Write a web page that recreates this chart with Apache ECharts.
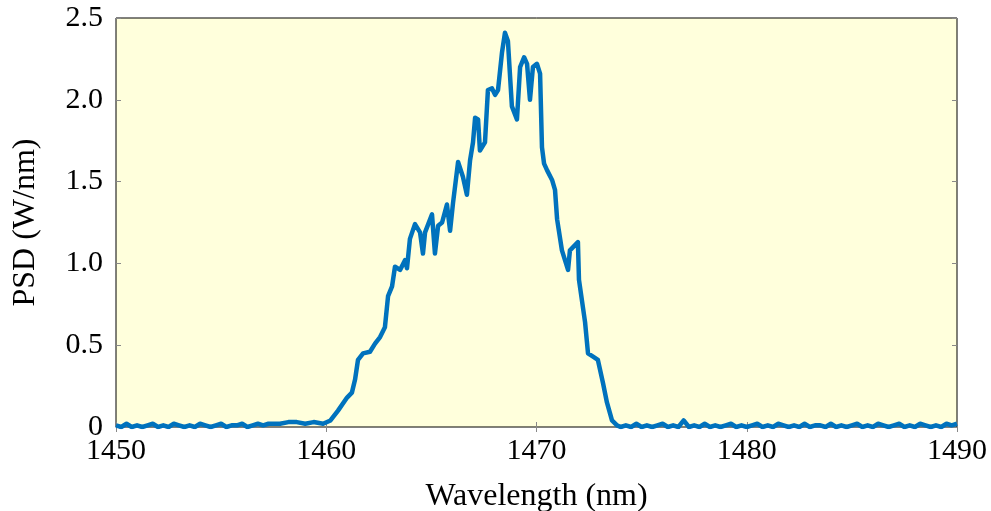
<!DOCTYPE html>
<html>
<head>
<meta charset="utf-8">
<script src="https://cdn.jsdelivr.net/npm/echarts@6/dist/echarts.min.js"></script>
<style>
  html, body { margin: 0; padding: 0; background: #fff; }
  #main { width: 991px; height: 511px; }
</style>
</head>
<body>
<div id="main"></div>
<script>
// wavelength samples (nm) and power spectral density (W/nm)
const wavelength = [
  1450.0, 1450.25, 1450.5, 1450.75, 1451.0, 1451.25, 1451.5, 1451.75, 1452.0, 1452.25,
  1452.5, 1452.75, 1453.0, 1453.25, 1453.5, 1453.75, 1454.0, 1454.25, 1454.5, 1454.75,
  1455.0, 1455.25, 1455.5, 1455.75, 1456.0, 1456.25, 1456.5, 1456.75, 1457.0, 1457.25,
  1457.5, 1457.8, 1458.2, 1458.6, 1459.0, 1459.4, 1459.85, 1460.2, 1460.56, 1460.99,
  1461.22, 1461.37, 1461.51, 1461.75, 1462.08, 1462.32, 1462.56, 1462.79, 1462.94, 1463.13,
  1463.27, 1463.51, 1463.75, 1463.84, 1463.98, 1464.22, 1464.46, 1464.6, 1464.7, 1465.03,
  1465.17, 1465.32, 1465.51, 1465.74, 1465.89, 1466.03, 1466.27, 1466.5, 1466.69, 1466.84,
  1466.98, 1467.08, 1467.22, 1467.31, 1467.55, 1467.69, 1467.88, 1468.03, 1468.17, 1468.36,
  1468.5, 1468.64, 1468.83, 1469.07, 1469.22, 1469.41, 1469.55, 1469.69, 1469.83, 1470.02,
  1470.17, 1470.26, 1470.36, 1470.5, 1470.74, 1470.88, 1470.98, 1471.21, 1471.5, 1471.59,
  1471.97, 1472.02, 1472.31, 1472.45, 1472.69, 1472.92, 1473.16, 1473.35, 1473.59, 1473.83,
  1474.0, 1474.25, 1474.5, 1474.75, 1475.0, 1475.25, 1475.5, 1475.75, 1476.0, 1476.25,
  1476.5, 1476.75, 1477.0, 1477.25, 1477.5, 1477.75, 1478.0, 1478.25, 1478.5, 1478.75,
  1479.0, 1479.25, 1479.5, 1479.75, 1480.0, 1480.25, 1480.5, 1480.75, 1481.0, 1481.25,
  1481.5, 1481.75, 1482.0, 1482.25, 1482.5, 1482.75, 1483.0, 1483.25, 1483.5, 1483.75,
  1484.0, 1484.25, 1484.5, 1484.75, 1485.0, 1485.25, 1485.5, 1485.75, 1486.0, 1486.25,
  1486.5, 1486.75, 1487.0, 1487.25, 1487.5, 1487.75, 1488.0, 1488.25, 1488.5, 1488.75,
  1489.0, 1489.25, 1489.5, 1489.75, 1490.0
];
const psd = [
  0.01, 0.00, 0.02, 0.00, 0.01, 0.00, 0.01, 0.02, 0.00, 0.01,
  0.00, 0.02, 0.01, 0.00, 0.01, 0.00, 0.02, 0.01, 0.00, 0.01,
  0.02, 0.00, 0.01, 0.01, 0.02, 0.00, 0.01, 0.02, 0.01, 0.02,
  0.02, 0.02, 0.03, 0.03, 0.02, 0.03, 0.02, 0.04, 0.10, 0.18,
  0.21, 0.29, 0.41, 0.45, 0.46, 0.51, 0.55, 0.61, 0.80, 0.86,
  0.98, 0.96, 1.02, 0.97, 1.15, 1.24, 1.19, 1.06, 1.19, 1.30,
  1.06, 1.23, 1.25, 1.36, 1.20, 1.37, 1.62, 1.53, 1.42, 1.63,
  1.74, 1.89, 1.88, 1.69, 1.74, 2.06, 2.07, 2.03, 2.06, 2.29,
  2.41, 2.36, 1.96, 1.88, 2.20, 2.26, 2.22, 2.00, 2.20, 2.22,
  2.16, 1.71, 1.61, 1.57, 1.51, 1.45, 1.27, 1.08, 0.96, 1.08,
  1.13, 0.90, 0.64, 0.45, 0.43, 0.41, 0.27, 0.15, 0.04, 0.01,
  0.00, 0.01, 0.00, 0.02, 0.00, 0.01, 0.00, 0.01, 0.02, 0.00,
  0.01, 0.00, 0.04, 0.00, 0.01, 0.00, 0.02, 0.00, 0.01, 0.00,
  0.01, 0.02, 0.00, 0.01, 0.00, 0.01, 0.02, 0.00, 0.01, 0.00,
  0.02, 0.01, 0.00, 0.01, 0.00, 0.02, 0.00, 0.01, 0.01, 0.00,
  0.02, 0.00, 0.01, 0.00, 0.01, 0.02, 0.00, 0.01, 0.00, 0.02,
  0.01, 0.00, 0.01, 0.02, 0.00, 0.01, 0.00, 0.02, 0.01, 0.00,
  0.01, 0.00, 0.02, 0.01, 0.02
];
const xTicks = [1450, 1460, 1470, 1480, 1490];
const yTicks = [0, 0.5, 1.0, 1.5, 2.0, 2.5];

const chart = echarts.init(document.getElementById('main'));
const font = 'Liberation Serif';

const points = wavelength.map((w, i) => [w, psd[i]]);

const tickStyle = { show: true, inside: true, length: 5, lineStyle: { color: '#888', width: 1 } };

const option = {
    animation: false,
    grid: {
        left: 116, right: 34, top: 18, bottom: 84,
        outerBoundsMode: 'none',
        containLabel: false,
        show: true,
        backgroundColor: '#FFFFDC',
        borderColor: '#000',
        borderWidth: 1
    },
    xAxis: [
        {
            type: 'value',
            min: xTicks[0], max: xTicks[xTicks.length - 1], interval: 10,
            name: 'Wavelength (nm)',
            nameLocation: 'middle',
            nameGap: 54,
            nameTextStyle: { fontFamily: font, fontSize: 32, color: '#000' },
            axisLine: { show: false },
            axisTick: tickStyle,
            splitLine: { show: false },
            axisLabel: {
                fontFamily: font, fontSize: 30, color: '#000', margin: 9,
                formatter: v => String(v)
            }
        },
        {
            type: 'value', position: 'top',
            min: xTicks[0], max: xTicks[xTicks.length - 1], interval: 10,
            axisLine: { show: false }, axisTick: tickStyle,
            axisLabel: { show: false }, splitLine: { show: false }
        }
    ],
    yAxis: [
        {
            type: 'value',
            min: yTicks[0], max: yTicks[yTicks.length - 1], interval: 0.5,
            name: 'PSD (W/nm)',
            nameLocation: 'middle',
            nameGap: 74,
            nameTextStyle: { fontFamily: font, fontSize: 32, color: '#000' },
            axisLine: { show: false },
            axisTick: tickStyle,
            splitLine: { show: false },
            axisLabel: {
                fontFamily: font, fontSize: 30, color: '#000', margin: 13,
                formatter: v => v === 0 ? '0' : v.toFixed(1)
            }
        },
        {
            type: 'value', position: 'right',
            min: yTicks[0], max: yTicks[yTicks.length - 1], interval: 0.5,
            axisLine: { show: false }, axisTick: tickStyle,
            axisLabel: { show: false }, splitLine: { show: false }
        }
    ],
    series: [
        {
            type: 'line',
            data: points,
            showSymbol: false,
            clip: true,
            lineStyle: { color: '#0072BD', width: 4.5, join: 'round' }
        }
    ]
};
chart.setOption(option);
</script>
</body>
</html>
